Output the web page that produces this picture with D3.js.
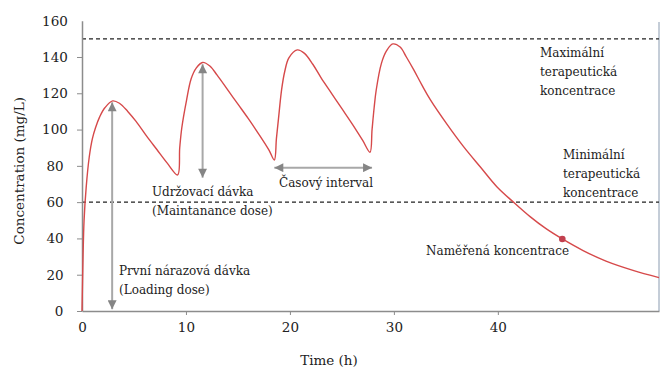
<!doctype html>
<html>
<head>
<meta charset="utf-8">
<style>
  body { margin: 0; background: #fff; }
  text { font-family: "DejaVu Serif", serif; fill: #222; }
</style>
<script src="https://d3js.org/d3.v7.min.js"></script>
</head>
<body>
<svg width="662" height="376"></svg>
<script>
// concentration curve: [time h, concentration mg/L]
var curve = [
  [0,0],[0.1,30],[0.2,50],[0.4,68],[0.7,85],[1.0,95],[1.3,101],[1.7,107],[2.2,112],[2.95,115.8],
  [3.6,114.5],[4.4,110],[5.2,104.5],[6.2,96.5],[7.2,89],[8.2,81.5],[9.2,75],
  [9.4,90],[9.6,101],[10.05,116],[10.5,128],[11,134],[11.6,137],
  [12.3,135],[13,130],[14,122],[15,114],[16,106],[17,97.5],[18,88.5],[18.5,83.2],
  [18.7,95],[18.9,106],[19.2,122],[19.5,132],[19.9,139.5],[20.7,143.9],
  [21.4,142],[22.2,136],[23,128.5],[24,120],[25,111.5],[26,103],[27,94],[27.7,87.5],
  [27.9,100],[28.1,112],[28.3,121.8],[28.8,136.5],[29.3,143.5],[29.9,147.2],
  [30.6,145.5],[31.2,140],[31.9,133],[32.7,124.5],[33.5,116.5],[35.1,103],[36.7,90.6],
  [38.3,79.5],[39.9,68.5],[41.5,60],[43.1,52],[44.6,45.5],[46.2,39.7],[48.2,33.3],
  [50.4,27.5],[53,22.4],[55.5,18.4]
];
var measured = [46.2, 39.7];

var thresholds = [150, 60];          // max / min therapeutic concentration
var xTicks = [0, 10, 20, 30, 40];
var yTicks = [0, 20, 40, 60, 80, 100, 120, 140, 160];

// arrows [x1, y1, x2, y2] in data units
var arrows = [
  [2.9, 1, 2.9, 115],     // loading dose
  [11.6, 73.5, 11.6, 136], // maintenance dose
  [18.5, 79, 27.9, 79]    // dosing interval
];

var svg = d3.select("svg");

var x = d3.scaleLinear().domain([0, 55.5]).range([82, 659]);
var y = d3.scaleLinear().domain([0, 160]).range([311, 20.7]);

// frame on right
svg.append("line")
   .attr("x1", 659).attr("x2", 659).attr("y1", 22).attr("y2", 311)
   .attr("stroke", "#8a9bb0").attr("stroke-width", 1);

// threshold lines
svg.selectAll(".thr")
   .data(thresholds)
   .enter().append("line")
   .attr("x1", x(0)).attr("x2", x(55.5))
   .attr("y1", function(d) { return y(d); })
   .attr("y2", function(d) { return y(d); })
   .attr("stroke", "#222").attr("stroke-width", 1.4)
   .attr("stroke-dasharray", "4,3");

// axes
var gx = svg.append("g")
   .attr("transform", "translate(0," + y(0) + ")")
   .call(d3.axisBottom(x).tickValues(xTicks).tickSize(4).tickPadding(7).tickSizeOuter(0));
var gy = svg.append("g")
   .attr("transform", "translate(" + x(0) + ",0)")
   .call(d3.axisLeft(y).tickValues(yTicks).tickSize(5).tickPadding(8).tickSizeOuter(0));

[gx, gy].forEach(function(g) {
  g.select(".domain").attr("stroke", "#8c8c8c").attr("stroke-width", 1.5);
  g.selectAll(".tick line").attr("stroke", "#8c8c8c");
  g.selectAll(".tick text")
   .style("font-family", "'DejaVu Serif', serif")
   .attr("font-size", 13.5).attr("fill", "#222");
});
gx.selectAll(".tick").filter(function(d) { return d === 0; }).select("line").remove();
gy.selectAll(".tick").filter(function(d) { return d === 160; }).select("line").remove();
gy.selectAll(".tick text").attr("text-anchor", "middle").attr("x", -27);
gy.selectAll(".tick").filter(function(d) { return d === 0; }).select("text").attr("x", -23);

svg.append("text")
   .attr("transform", "translate(24," + ((y(0) + y(160)) / 2 + 5) + ") rotate(-90)")
   .attr("text-anchor", "middle")
   .attr("font-size", 13.5)
   .text("Concentration (mg/L)");

svg.append("text")
   .attr("x", 329).attr("y", 365)
   .attr("text-anchor", "middle")
   .attr("font-size", 13.5)
   .text("Time (h)");

// arrows
var defs = svg.append("defs");
defs.append("marker")
    .attr("id", "head")
    .attr("viewBox", "0 0 10 10")
    .attr("refX", 10).attr("refY", 5)
    .attr("markerWidth", 5.5).attr("markerHeight", 4.5)
    .attr("markerUnits", "strokeWidth")
    .attr("orient", "auto-start-reverse")
    .append("path").attr("d", "M0,0 L10,5 L0,10 Z").attr("fill", "#858585");

svg.selectAll(".arrow")
   .data(arrows)
   .enter().append("line")
   .attr("x1", function(d) { return x(d[0]); })
   .attr("y1", function(d) { return y(d[1]); })
   .attr("x2", function(d) { return x(d[2]); })
   .attr("y2", function(d) { return y(d[3]); })
   .attr("stroke", "#a8a8a8").attr("stroke-width", 2)
   .attr("marker-start", "url(#head)")
   .attr("marker-end", "url(#head)");

// curve
svg.append("path")
   .datum(curve)
   .attr("fill", "none")
   .attr("stroke", "#d6494a")
   .attr("stroke-width", 1.4)
   .attr("d", d3.line()
       .x(function(d) { return x(d[0]); })
       .y(function(d) { return y(d[1]); })
       .curve(d3.curveCatmullRom.alpha(0.5)));

svg.append("circle")
   .attr("cx", x(measured[0])).attr("cy", y(measured[1]))
   .attr("r", 3.3).attr("fill", "#c2404f");

// labels
var labels = [
  { x: 152, y: 196, lines: ["Udržovací dávka", "(Maintanance dose)"] },
  { x: 119, y: 275, lines: ["První nárazová dávka", "(Loading dose)"] },
  { x: 279, y: 187, lines: ["Časový interval"] },
  { x: 540, y: 57, lines: ["Maximální", "terapeutická", "koncentrace"] },
  { x: 563, y: 159, lines: ["Minimální", "terapeutická", "koncentrace"] },
  { x: 426, y: 255, lines: ["Naměřená koncentrace"] }
];
labels.forEach(function(l) {
  var t = svg.append("text").attr("font-size", 12);
  l.lines.forEach(function(s, i) {
    t.append("tspan").attr("x", l.x).attr("y", l.y + i * 19).text(s);
  });
});
</script>
</body>
</html>
